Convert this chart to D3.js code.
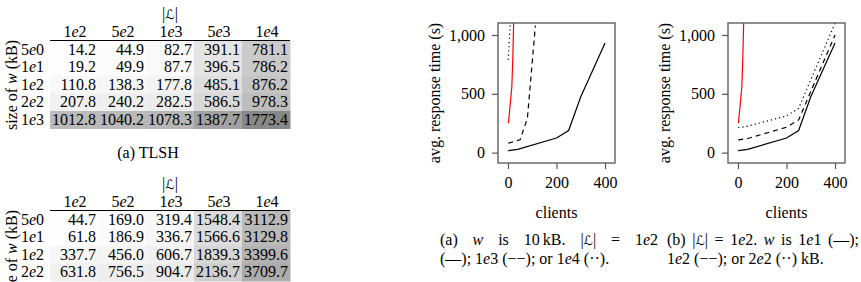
<!DOCTYPE html>
<html>
<head>
<meta charset="utf-8">
<script src="https://cdn.jsdelivr.net/npm/d3@7"></script>
<style>
body { margin: 0; background: #fff; }
svg { display: block; }
</style>
</head>
<body>
<svg id="fig" width="861" height="282" font-family="'Liberation Serif', 'Times New Roman', Tinos, serif"></svg>
<script>
// table axes
const sizeLabels = ["5e0", "1e1", "1e2", "2e2", "1e3"];
const listLabels = ["1e2", "5e2", "1e3", "5e3", "1e4"];

// avg times, rows = size of w, cols = |L|
const tlshTimes = [
    [14.2, 44.9, 82.7, 391.1, 781.1],
    [19.2, 49.9, 87.7, 396.5, 786.2],
    [110.8, 138.3, 177.8, 485.1, 876.2],
    [207.8, 240.2, 282.5, 586.5, 978.3],
    [1012.8, 1040.2, 1078.3, 1387.7, 1773.4]
];
// second table, only the visible rows
const otherTimes = [
    [44.7, 169.0, 319.4, 1548.4, 3112.9],
    [61.8, 186.9, 336.7, 1566.6, 3129.8],
    [337.7, 456.0, 606.7, 1839.3, 3399.6],
    [631.8, 756.5, 904.7, 2136.7, 3709.7]
];
const shadeMax = [1773.4, 5300];

// response time curves
const clients = [1, 40, 200, 250, 300, 400];
const timesBase = [17, 28, 124, 188, 475, 933];      // w 1e1, |L| 1e2
const clientsL1e3 = [1, 50, 80, 113];
const timesL1e3 = [80, 110, 290, 1080];
const clientsL1e4 = [1, 10];
const timesL1e4 = [788, 1110];
const timesW1e2 = [108, 120, 216, 278, 520, 1000];
const timesW2e2 = [212, 225, 312, 377, 620, 1100];
const clientsRed = [2, 16, 20, 24];
const timesRed = [250, 560, 800, 1150];

const xTicks = [0, 200, 400];
const yTicks = [0, 500, 1000];

const svg = d3.select("#fig");
const FS = 16;

function sci(text, s) {
    const [m, e] = s.split("e");
    text.append("tspan").text(m);
    text.append("tspan").attr("font-style", "italic").text("e");
    text.append("tspan").text(e);
}

function scriptL(text, before, after) {
    text.append("tspan").text(before + "|");
    text.append("tspan").attr("font-family", "DejaVu Sans").attr("font-size", FS - 3).text("ℒ");
    text.append("tspan").text("|" + after);
}

function drawTable(top, values, maxVal) {
    const g = svg.append("g").attr("transform", `translate(0,${top})`);
    const x = d3.scaleBand().domain(listLabels).range([50, 290]);
    const y = d3.scaleBand().domain(sizeLabels).range([41, 128.5]);
    const shade = d3.scaleLinear().domain([0, maxVal]).range(["#ffffff", "#888888"]);

    values.forEach((row, i) => {
        row.forEach((v, j) => {
            g.append("rect")
                .attr("x", x(listLabels[j]))
                .attr("y", y(sizeLabels[i]))
                .attr("width", x.bandwidth() + 0.5)
                .attr("height", y.bandwidth() + 0.5)
                .attr("fill", shade(v));
            g.append("text")
                .attr("x", x(listLabels[j]) + x.bandwidth() - 2)
                .attr("y", y(sizeLabels[i]) + y.bandwidth() / 2 + 5)
                .attr("text-anchor", "end")
                .attr("font-size", FS)
                .text(v.toFixed(1));
        });
        const lab = g.append("text")
            .attr("x", 21)
            .attr("y", y(sizeLabels[i]) + y.bandwidth() / 2 + 5)
            .attr("font-size", FS);
        sci(lab, sizeLabels[i]);
    });

    listLabels.forEach(c => {
        const t = g.append("text")
            .attr("x", x(c) + x.bandwidth() / 2 + 1)
            .attr("y", 37)
            .attr("text-anchor", "middle")
            .attr("font-size", FS);
        sci(t, c);
    });

    const head = g.append("text")
        .attr("x", 170)
        .attr("y", 19)
        .attr("text-anchor", "middle")
        .attr("fill", "#000")
        .attr("font-size", FS);
    scriptL(head, "", "");

    g.append("line")
        .attr("x1", 50).attr("x2", 290)
        .attr("y1", 40.5).attr("y2", 40.5)
        .attr("stroke", "#000")
        .attr("stroke-width", 1);

    const ylab = g.append("text")
        .attr("transform", `translate(17,85) rotate(-90)`)
        .attr("text-anchor", "middle")
        .attr("font-size", FS);
    ylab.append("tspan").text("size of ");
    ylab.append("tspan").attr("font-style", "italic").text("w");
    ylab.append("tspan").text(" (kB)");
}

function drawChart(left, id, series) {
    const top = 23, w = 117, h = 140;
    const g = svg.append("g").attr("transform", `translate(${left},${top})`);
    const x = d3.scaleLinear().domain([-41, 441]).range([0, w]);
    const y = d3.scaleLinear().domain([-88, 1102]).range([h, 0]);

    g.append("clipPath").attr("id", id)
        .append("rect").attr("width", w).attr("height", h);

    const line = d3.line().x(d => x(d[0])).y(d => y(d[1]));
    series.forEach(s => {
        g.append("path")
            .datum(d3.zip(s.x, s.y))
            .attr("clip-path", `url(#${id})`)
            .attr("d", line)
            .attr("fill", "none")
            .attr("stroke", s.color || "#000")
            .attr("stroke-width", 1.2)
            .attr("stroke-dasharray", s.dash || null);
    });

    g.append("rect")
        .attr("width", w).attr("height", h)
        .attr("fill", "none")
        .attr("stroke", "#555")
        .attr("stroke-width", 1.3);

    const yAxis = g.append("g")
        .call(d3.axisLeft(y).tickValues(yTicks).tickSize(6).tickPadding(7).tickFormat(d3.format(",")));
    const xAxis = g.append("g")
        .attr("transform", `translate(0,${h})`)
        .call(d3.axisBottom(x).tickValues(xTicks).tickSize(6).tickPadding(8));
    [xAxis, yAxis].forEach(a => {
        a.select(".domain").remove();
        a.attr("font-family", null).attr("font-size", FS);
        a.selectAll("line").attr("stroke", "#555").attr("stroke-width", 1.2);
    });

    g.append("text")
        .attr("x", w / 2)
        .attr("y", 218 - top)
        .attr("text-anchor", "middle")
        .attr("font-size", FS)
        .text("clients");

    g.append("text")
        .attr("transform", `translate(-58,${h / 2}) rotate(-90)`)
        .attr("text-anchor", "middle")
        .attr("font-size", FS)
        .text("avg. response time (s)");
}

function justify(text, width) {
    const natural = text.node().getComputedTextLength();
    const spaces = (text.text().match(/ /g) || []).length;
    if (spaces) text.attr("word-spacing", (width - natural) / spaces);
}

function captionA() {
    const l1 = svg.append("text").attr("x", 440).attr("y", 245).attr("font-size", FS);
    l1.append("tspan").text("(a) ");
    l1.append("tspan").attr("font-style", "italic").text("w");
    l1.append("tspan").text(" is 10\u2009kB. ");
    scriptL(l1, "", " = ");
    sci(l1, "1e2");
    justify(l1, 218);

    const l2 = svg.append("text").attr("x", 440).attr("y", 264).attr("font-size", FS);
    l2.append("tspan").text("(\u2014); ");
    sci(l2, "1e3");
    l2.append("tspan").text(" (\u2212\u2212); or ");
    sci(l2, "1e4");
    l2.append("tspan").text(" (\u00b7\u00b7).");
}

function captionB() {
    const l1 = svg.append("text").attr("x", 667).attr("y", 245).attr("font-size", FS);
    l1.append("tspan").text("(b) ");
    scriptL(l1, "", " = ");
    sci(l1, "1e2");
    l1.append("tspan").text(". ");
    l1.append("tspan").attr("font-style", "italic").text("w");
    l1.append("tspan").text(" is ");
    sci(l1, "1e1");
    l1.append("tspan").text(" (\u2014);");
    justify(l1, 192);

    const l2 = svg.append("text").attr("x", 667).attr("y", 264).attr("font-size", FS);
    sci(l2, "1e2");
    l2.append("tspan").text(" (\u2212\u2212); or ");
    sci(l2, "2e2");
    l2.append("tspan").text(" (\u00b7\u00b7) kB.");
}

svg.append("rect").attr("width", 861).attr("height", 282).attr("fill", "#fff");

drawTable(0, tlshTimes, shadeMax[0]);
svg.append("text")
    .attr("x", 148).attr("y", 158)
    .attr("text-anchor", "middle")
    .attr("font-size", FS)
    .text("(a) TLSH");
drawTable(170, otherTimes, shadeMax[1]);

drawChart(498, "clipA", [
    { x: clients, y: timesBase },
    { x: clientsL1e3, y: timesL1e3, dash: "5,4" },
    { x: clientsL1e4, y: timesL1e4, dash: "1.2,3" },
    { x: clientsRed, y: timesRed, color: "#ff0000" }
]);
drawChart(728, "clipB", [
    { x: clients, y: timesBase },
    { x: clients, y: timesW1e2, dash: "5,4" },
    { x: clients, y: timesW2e2, dash: "1.2,3" },
    { x: clientsRed, y: timesRed, color: "#ff0000" }
]);

captionA();
captionB();
</script>
</body>
</html>
